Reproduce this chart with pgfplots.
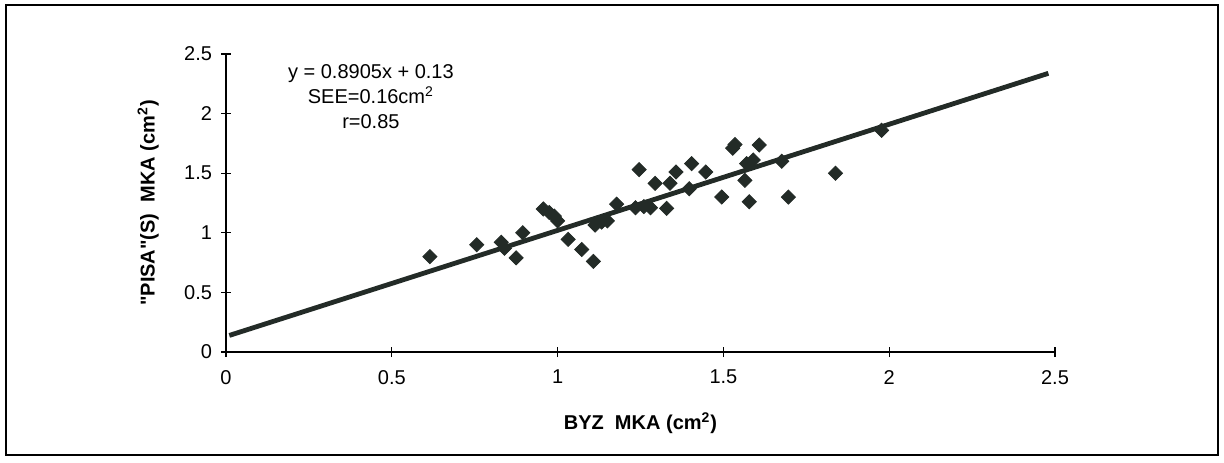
\documentclass[border=0pt]{standalone}
\usepackage{pgfplots}
\pgfplotsset{compat=1.18}
\usepackage{fontspec}
\setmainfont{Liberation Sans}
\definecolor{ink}{HTML}{232B27}
\begin{document}
\begin{tikzpicture}[x=1pt,y=1pt]
\useasboundingbox (0,0) rectangle (612,231);
\draw[line width=1.3pt, black] (3,3.5) rectangle (609,228.5);
\begin{axis}[
  at={(113pt,55pt)}, anchor=south west,
  scale only axis, width=414.5pt, height=149pt,
  xmin=0, xmax=2.5, ymin=0, ymax=2.5,
  axis lines*=left,
  axis line style={line width=0.6pt, black},
  xtick={0,0.5,1,1.5,2,2.5},
  ytick={0,0.5,1,1.5,2,2.5},
  xticklabels={0,0.5,1,1.5,2,2.5},
  yticklabels={0,0.5,1,1.5,2,2.5},
  tick align=center,
  major tick length=5pt,
  tick style={line width=0.6pt, black},
  tick label style={font=\fontsize{10pt}{12pt}\selectfont},
  xticklabel style={yshift=-3pt},
  yticklabel style={xshift=-1pt},
  /pgf/number format/assume math mode=true,
  xlabel={\textbf{BYZ\ \ MKA (cm\textsuperscript{2})}},
  ylabel={\textbf{\textquotedbl PISA\textquotedbl(S)\ \ MKA (cm\textsuperscript{2})}},
  label style={font=\fontsize{10pt}{12pt}\selectfont},
  every axis x label/.style={at={(axis description cs:0.5,-0.238)}, anchor=center},
  every axis y label/.style={at={(axis description cs:-0.094,0.5)}, rotate=90, anchor=center},
  clip=false,
]
\addplot[ink, line width=2.4pt, no marks] coordinates {(0.01,0.139) (2.48,2.338)};
\addplot[only marks, mark=square*, mark size=2.5pt, mark options={rotate=45, fill=ink, draw=ink}] coordinates {
(0.615,0.80) (0.756,0.90) (0.83,0.92) (0.84,0.87) (0.875,0.79) (0.895,1.00)
(0.957,1.20) (0.975,1.17) (0.99,1.14) (1.00,1.10) (1.032,0.945) (1.073,0.86)
(1.108,0.76) (1.113,1.065) (1.133,1.09) (1.15,1.10) (1.178,1.24) (1.235,1.21)
(1.26,1.22) (1.246,1.53) (1.28,1.21) (1.294,1.415) (1.329,1.205) (1.339,1.415)
(1.357,1.51) (1.397,1.37) (1.404,1.58) (1.447,1.51) (1.495,1.30) (1.528,1.71)
(1.535,1.74) (1.565,1.44) (1.578,1.26) (1.57,1.58) (1.59,1.61) (1.608,1.737)
(1.676,1.60) (1.696,1.30) (1.838,1.50) (1.977,1.86)
};
\node[align=center, font=\fontsize{10pt}{12.5pt}\selectfont] at (axis cs:0.437,2.14)
  {y = 0.8905x + 0.13\\SEE=0.16cm\textsuperscript{2}\\r=0.85};
\end{axis}
\end{tikzpicture}
\end{document}
